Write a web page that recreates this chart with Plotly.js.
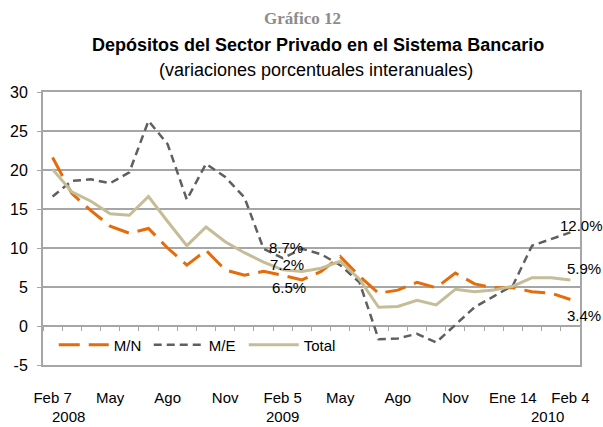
<!DOCTYPE html>
<html>
<head>
<meta charset="utf-8">
<script src="https://cdn.plot.ly/plotly-3.0.1.min.js"></script>
<style>html,body{margin:0;padding:0;background:#fff;}#chart{width:603px;height:427px;}</style>
</head>
<body>
<div id="chart"></div>
<script>
const categories = ['Feb 7 2008','Mar 2008','Abr 2008','May 2008','Jun 2008','Jul 2008','Ago 2008','Sep 2008','Oct 2008','Nov 2008','Dic 2008','Ene 2009','Feb 5 2009','Mar 2009','Abr 2009','May 2009','Jun 2009','Jul 2009','Ago 2009','Sep 2009','Oct 2009','Nov 2009','Dic 2009','Ene 7 2010','Ene 14 2010','Ene 21 2010','Ene 28 2010','Feb 4 2010'];
const mn  = [21.6,17.0,14.8,12.8,11.9,12.5,10.0,7.8,9.7,7.2,6.5,7.0,6.5,5.9,7.0,8.9,6.4,4.2,4.6,5.6,4.9,6.8,5.4,4.9,4.9,4.4,4.2,3.4];
const me  = [16.6,18.6,18.8,18.3,19.7,26.3,23.3,16.2,20.8,19.1,16.5,9.9,8.7,9.9,9.2,7.8,5.6,-1.7,-1.6,-1.0,-2.1,0.2,2.4,3.8,5.2,10.3,11.1,12.0];
const tot = [20.1,17.2,16.0,14.4,14.2,16.6,13.4,10.3,12.7,10.8,9.4,8.2,7.2,7.0,7.4,8.3,6.0,2.4,2.5,3.3,2.7,4.7,4.4,4.6,5.1,6.2,6.2,5.9];
const seriesNames = ['M/N','M/E','Total'];
const tickCats = ['Feb 7 2008','May 2008','Ago 2008','Nov 2008','Feb 5 2009','May 2009','Ago 2009','Nov 2009','Ene 14 2010','Feb 4 2010'];
const tickText = ['Feb 7','May','Ago','Nov','Feb 5','May','Ago','Nov','Ene 14','Feb 4'];
const yTickVals = [-5,0,5,10,15,20,25,30];
const yTickText = ['-5','0','5','10','15','20','25','30'];
const years = ['2008','2009','2010'];

const FONT = 'Liberation Sans, Arial, sans-serif';
const gridC = '#a6a6a6';

const traces = [
  {x: categories, y: mn, name: seriesNames[0], type: 'scatter', mode: 'lines',
   line: {color: '#E46C0A', width: 3, dash: '21px,9px'}},
  {x: categories, y: me, name: seriesNames[1], type: 'scatter', mode: 'lines',
   line: {color: '#5F5F5F', width: 2.5, dash: '8px,5px'}},
  {x: categories, y: tot, name: seriesNames[2], type: 'scatter', mode: 'lines',
   line: {color: '#C4BD97', width: 3}},
  {x: [], y: [], xaxis: 'x2', yaxis: 'y', showlegend: false, hoverinfo: 'skip'}
];

function pct(v){ return v.toFixed(1) + '%'; }
const last = categories.length - 1;
const mid = 12;
const annFont = {family: FONT, size: 15, color: '#000'};
const yearFont = {family: FONT, size: 15, color: '#000'};
const annotations = [
  {xref:'x', yref:'y', x: categories[mid], y: me[mid], text: pct(me[mid]), showarrow:false, xanchor:'center', yanchor:'middle', xshift:3, yshift:11, font: annFont},
  {xref:'x', yref:'y', x: categories[mid], y: tot[mid], text: pct(tot[mid]), showarrow:false, xanchor:'center', yanchor:'middle', xshift:4, yshift:5, font: annFont},
  {xref:'x', yref:'y', x: categories[mid], y: mn[mid], text: pct(mn[mid]), showarrow:false, xanchor:'center', yanchor:'middle', xshift:6, yshift:-12, font: annFont},
  {xref:'x', yref:'y', x: categories[last], y: me[last], text: pct(me[last]), showarrow:false, xanchor:'left', yanchor:'middle', xshift:-12, yshift:7, font: annFont},
  {xref:'x', yref:'y', x: categories[last], y: tot[last], text: pct(tot[last]), showarrow:false, xanchor:'left', yanchor:'middle', xshift:-5, yshift:11, font: annFont},
  {xref:'x', yref:'y', x: categories[last], y: mn[last], text: pct(mn[last]), showarrow:false, xanchor:'left', yanchor:'middle', xshift:-5, yshift:-16, font: annFont},
  // year labels
  {xref:'x', yref:'paper', x: 0.84, y: -0.19, text: years[0], showarrow:false, xanchor:'center', yanchor:'middle', font: yearFont},
  {xref:'x', yref:'paper', x: 12, y: -0.19, text: years[1], showarrow:false, xanchor:'center', yanchor:'middle', font: yearFont},
  {xref:'x', yref:'paper', x: 25.8, y: -0.19, text: years[2], showarrow:false, xanchor:'center', yanchor:'middle', font: yearFont},
  // titles
  {xref:'paper', yref:'paper', x: 0.483, y: 1.271, text: '<b>Gráfico 12</b>', showarrow:false, xanchor:'center', yanchor:'middle', font: {family: 'Liberation Serif, Times New Roman, serif', size: 17, color:'#8c8c8c'}},
  {xref:'paper', yref:'paper', x: 0.512, y: 1.172, text: '<b>Depósitos del Sector Privado en el Sistema Bancario</b>', showarrow:false, xanchor:'center', yanchor:'middle', font: {family: FONT, size: 18, color:'#000'}},
  {xref:'paper', yref:'paper', x: 0.508, y: 1.081, text: '(variaciones porcentuales interanuales)', showarrow:false, xanchor:'center', yanchor:'middle', font: {family: FONT, size: 18, color:'#000'}}
];

const layout = {
  width: 603, height: 427,
  margin: {l: 43, r: 23, t: 92, b: 62},
  paper_bgcolor: '#fff', plot_bgcolor: '#fff',
  font: {family: FONT, size: 15, color: '#000'},
  showlegend: true,
  legend: {orientation: 'h', x: 0.02, xanchor: 'left', y: 0.073, yanchor: 'middle',
           itemwidth: 50, entrywidth: 30, entrywidthmode: 'pixels',
           bgcolor: 'rgba(0,0,0,0)', font: {family: FONT, size: 15, color: '#000'}, traceorder: 'normal'},
  xaxis: {
    type: 'category', range: [-0.5, categories.length - 0.5],
    tickmode: 'array', tickvals: tickCats, ticktext: tickText,
    ticks: 'outside', ticklen: 18, tickcolor: 'rgba(0,0,0,0)',
    showgrid: false, zeroline: false,
    showline: true, linecolor: gridC, linewidth: 2, mirror: true,
    tickfont: {family: FONT, size: 15, color: '#000'}
  },
  xaxis2: {
    overlaying: 'x', anchor: 'free', position: 5/35, side: 'bottom',
    type: 'linear', range: [-0.5, categories.length - 0.5],
    tickmode: 'linear', tick0: -0.5, dtick: 1,
    ticks: 'outside', ticklen: 4, tickwidth: 1, tickcolor: gridC,
    showticklabels: false, showgrid: false, zeroline: false, showline: false
  },
  yaxis: {
    range: [-5, 30], tickmode: 'array', tickvals: yTickVals, ticktext: yTickText,
    ticks: 'outside', ticklen: 4, tickcolor: gridC, ticklabelstandoff: 6,
    showgrid: true, gridcolor: gridC, gridwidth: 1.5,
    zeroline: true, zerolinecolor: gridC, zerolinewidth: 2,
    showline: true, linecolor: gridC, linewidth: 2, mirror: true,
    tickfont: {family: FONT, size: 16, color: '#000'}
  },
  annotations: annotations
};

Plotly.newPlot('chart', traces, layout, {displayModeBar: false, staticPlot: true});
</script>
</body>
</html>
